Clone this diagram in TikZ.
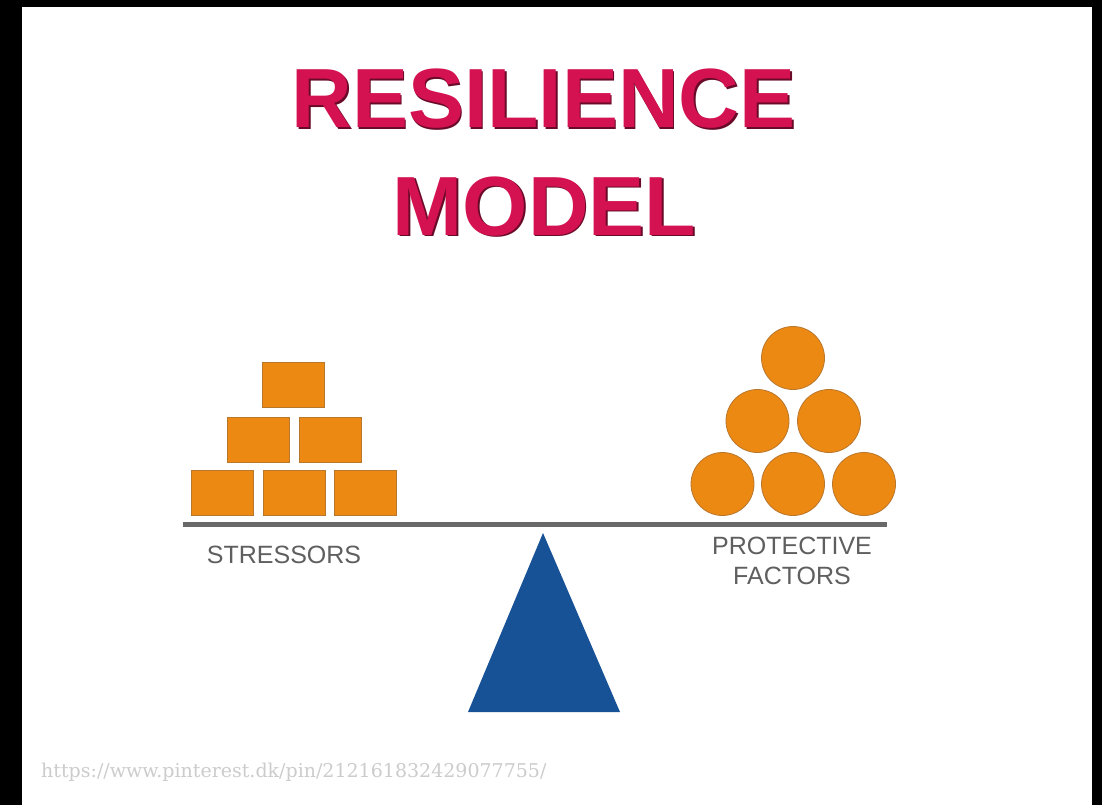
\documentclass[tikz,border=0pt]{standalone}
\usepackage{fontspec}
\setmainfont{Liberation Sans}
\newfontfamily\urlfont{DejaVu Serif}
\usepackage{tikz}

\definecolor{crimson}{RGB}{212,18,82}
\definecolor{crimsondark}{RGB}{105,10,40}
\definecolor{weight}{RGB}{236,137,18}
\definecolor{weightedge}{RGB}{185,118,45}
\definecolor{beamgray}{RGB}{105,105,105}
\definecolor{fulcrum}{RGB}{24,82,150}

\tikzset{
  stress/.style={draw=weightedge, fill=weight, line width=0.8pt, minimum width=62pt, minimum height=45pt, inner sep=0pt},
  protect/.style={circle, draw=weightedge, fill=weight, line width=0.8pt, minimum size=63pt, inner sep=0pt},
  label text/.style={text=beamgray!90!black, font=\fontsize{25}{30}\selectfont, inner sep=0pt}
}

\begin{document}
\begin{tikzpicture}[x=1pt, y=-1pt]

% frame
\useasboundingbox (0,0) rectangle (1102,805);
\fill[black] (0,0) rectangle (1102,805);
\fill[white] (22,7) rectangle (1092,805);

% title, with a dark shadow under the crimson letters
\foreach \dx/\col in {1.6/crimsondark, 0/crimson} {
  \node[anchor=base, text=\col, font=\fontsize{84}{84}\selectfont\bfseries, inner sep=0pt] at (543.5+\dx,128+\dx) {RESILIENCE};
  \node[anchor=base, text=\col, font=\fontsize{84}{84}\selectfont\bfseries, inner sep=0pt] at (544.5+\dx,235+\dx) {MODEL};
}

% beam of the scale
\coordinate (beamL) at (183,524);
\coordinate (beamR) at (887,524);
\draw[beamgray, line width=5pt] (beamL) -- (beamR);

% fulcrum
\coordinate (tip) at (543,533);
\coordinate (baseL) at (468,712);
\coordinate (baseR) at (620,712);
\fill[fulcrum] (tip) -- (baseL) -- (baseR) -- cycle;

% stressors: pyramid of boxes on the left
\node[stress] (s1) at (222.5,492.5) {};
\node[stress] (s2) at (294,492.5) {};
\node[stress] (s3) at (365.5,492.5) {};
\node[stress] (s4) at (258,439.5) {};
\node[stress] (s5) at (330,439.5) {};
\node[stress] (s6) at (293.5,385) {};
\node[label text, anchor=base] (stressors) at (284,563) {STRESSORS};

% protective factors: pyramid of balls on the right
\node[protect] (p1) at (722.5,484) {};
\node[protect] (p2) at (793,484) {};
\node[protect] (p3) at (864,484) {};
\node[protect] (p4) at (757.5,421) {};
\node[protect] (p5) at (829,421) {};
\node[protect] (p6) at (793,358) {};
\node[label text, align=center, anchor=north] (factors) at (792,537) {PROTECTIVE\\FACTORS};

% source line
\node[anchor=base west, text=black!20, font=\urlfont\fontsize{19}{19}\selectfont, inner sep=0pt] (source) at (41,777) {https://www.pinterest.dk/pin/212161832429077755/};

\end{tikzpicture}
\end{document}
